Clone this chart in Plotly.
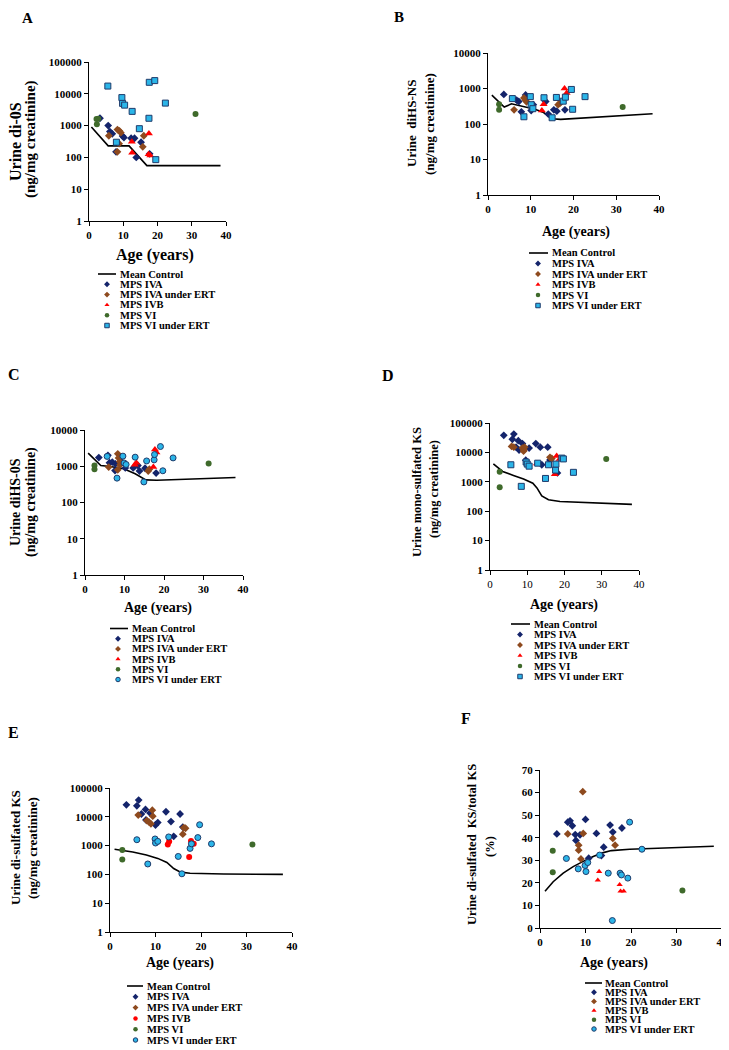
import plotly.graph_objects as go

# The page body adds an 8 px margin; design coordinates are page pixels.
W, H = 729, 1050
OFF = 8
FW, FH = W - OFF, H - OFF

SERIES = ["MPS IVA", "MPS IVA under ERT", "MPS IVB", "MPS VI", "MPS VI under ERT"]
CONTROL_NAME = "Mean Control"
AGE_TICKS = [0, 10, 20, 30, 40]
LOG5_TICKS = [1, 10, 100, 1000, 10000, 100000]
LOG4_TICKS = [1, 10, 100, 1000, 10000]
PCT_TICKS = [0, 10, 20, 30, 40, 50, 60, 70]

# ---------------- Panel A: di-0S ----------------
a_ctrl_age = [0.7, 5.6, 11.7, 16.9, 38.4]
a_ctrl_val = [900, 230, 230, 55, 55]
a_iva_age = [3.2, 5.6, 6.1, 6.8, 7.9, 9.8, 10.2, 12.3, 13.3, 13.8, 15.2, 17.7]
a_iva_val = [1700, 1000, 650, 550, 150, 470, 420, 400, 400, 100, 300, 130]
a_ivaert_age = [5.8, 8.3, 8.9, 9.3, 8.3, 8.8, 15.7, 16.0]
a_ivaert_val = [480, 750, 680, 600, 150, 270, 215, 480]
a_ivb_age = [12.5, 12.6, 17.5, 17.4, 17.9]
a_ivb_val = [310, 140, 560, 125, 115]
a_vi_age = [2.2, 2.3, 2.7, 31.1]
a_vi_val = [1600, 1100, 1650, 2300]
a_viert_age = [5.5, 8.0, 9.6, 9.8, 10.4, 12.6, 14.7, 17.5, 17.6, 19.2, 19.5, 22.3]
a_viert_val = [17500, 300, 7600, 5000, 4400, 2800, 800, 1700, 23000, 26000, 85, 5100]

# ---------------- Panel B: diHS-NS ----------------
b_ctrl_age = [0.9, 3.8, 5.5, 8.5, 11, 13, 15, 17, 25, 38.5]
b_ctrl_val = [650, 300, 370, 310, 260, 210, 140, 135, 155, 195]
b_iva_age = [3.7, 6.7, 7.2, 7.8, 8.8, 10.1, 10.6, 13.5, 14.1, 15.4, 16.1, 18.0]
b_iva_val = [680, 470, 430, 220, 660, 240, 350, 430, 190, 250, 230, 250]
b_ivaert_age = [6.1, 8.4, 8.8, 9.0, 16.4, 16.8]
b_ivaert_val = [250, 540, 470, 420, 350, 380]
b_ivb_age = [12.6, 13.0, 17.9, 18.4]
b_ivb_val = [240, 360, 1000, 750]
b_vi_age = [2.6, 2.6, 31.5]
b_vi_val = [360, 250, 300]
b_viert_age = [5.7, 8.4, 9.9, 10.1, 10.5, 13.1, 15.0, 16.0, 17.6, 18.1, 19.5, 19.8, 22.7]
b_viert_val = [520, 160, 590, 350, 270, 550, 150, 560, 440, 570, 940, 260, 590]

# ---------------- Panel C: diHS-0S ----------------
c_ctrl_age = [0.8, 4.0, 6.4, 9.8, 12.7, 15.4, 18.2, 28, 38.1]
c_ctrl_val = [2300, 1050, 980, 850, 620, 420, 410, 440, 490]
c_iva_age = [3.5, 5.8, 6.2, 6.9, 7.6, 7.7, 9.0, 10.2, 12.2, 13.4, 13.8, 15.2, 18.0]
c_iva_val = [1730, 2000, 1250, 1300, 760, 1170, 1650, 900, 900, 1050, 740, 880, 650]
c_ivaert_age = [6.0, 8.3, 8.5, 8.8, 8.9, 8.3, 16.0, 16.3]
c_ivaert_val = [950, 2200, 1700, 1350, 1100, 800, 740, 830]
c_ivb_age = [12.6, 13.0, 17.3, 17.7, 18.1]
c_ivb_val = [1100, 1250, 950, 2900, 2400]
c_vi_age = [2.4, 2.4, 31.3]
c_vi_val = [1050, 830, 1200]
c_viert_age = [5.6, 8.1, 9.6, 9.9, 10.4, 12.7, 14.9, 15.6, 17.5, 17.6, 19.1, 19.7, 22.3]
c_viert_val = [1870, 470, 1900, 1230, 1120, 1780, 370, 1400, 1500, 2100, 3500, 750, 1700]

# ---------------- Panel D: mono-sulfated KS ----------------
d_ctrl_age = [0.9, 3.4, 6.3, 9.0, 11.5, 12.6, 13.9, 15.7, 18.8, 27.8, 38.1]
d_ctrl_val = [4100, 2250, 1650, 1250, 900, 620, 330, 245, 215, 190, 170]
d_iva_age = [3.7, 6.0, 6.4, 7.0, 7.6, 8.7, 7.8, 10.5, 12.3, 13.5, 15.5, 9.6, 13.9, 16.1, 18.1]
d_iva_val = [38000, 28000, 42000, 15000, 25000, 20000, 12000, 14000, 20000, 15000, 15000, 5400, 3800, 5500, 2000]
d_ivaert_age = [5.8, 6.4, 8.7, 9.1, 9.3, 9.0, 16.1, 16.6]
d_ivaert_val = [16000, 15000, 14000, 12000, 15000, 11000, 6800, 6200]
d_ivb_age = [12.6, 17.4, 17.9, 18.7]
d_ivb_val = [4200, 1800, 7500, 6000]
d_vi_age = [2.6, 2.6, 31.2]
d_vi_val = [2200, 650, 6000]
d_viert_age = [5.6, 8.4, 9.7, 10.0, 10.5, 12.8, 14.9, 15.7, 17.6, 17.7, 19.3, 19.7, 22.4]
d_viert_val = [3800, 700, 4700, 4000, 3400, 4300, 1300, 3800, 2500, 4000, 6400, 6000, 2100]

# ---------------- Panel E: di-sulfated KS ----------------
e_ctrl_age = [1.0, 5.0, 8.0, 10.5, 12.5, 14.0, 15.5, 17.6, 25, 38]
e_ctrl_val = [750, 600, 470, 360, 260, 160, 120, 110, 103, 100]
e_iva_age = [3.6, 5.9, 6.3, 6.9, 7.8, 7.9, 8.8, 10.0, 10.5, 12.3, 13.4, 14.0, 15.4, 16.0]
e_iva_val = [26000, 24000, 38000, 12500, 18000, 7800, 13500, 5200, 6300, 15000, 6800, 2100, 12500, 4400]
e_ivaert_age = [6.2, 8.1, 8.6, 9.0, 9.3, 9.4, 16.0, 16.2, 16.6]
e_ivaert_val = [11500, 7400, 6500, 5700, 17000, 10500, 2500, 4200, 4000]
e_ivb_age = [12.7, 13.0, 17.4, 17.8, 18.4]
e_ivb_val = [1100, 1400, 400, 1450, 1150]
e_vi_age = [2.7, 2.7, 31.3]
e_vi_val = [700, 330, 1100]
e_viert_age = [5.9, 8.3, 9.9, 10.0, 10.5, 12.9, 15.0, 15.8, 17.6, 17.9, 19.3, 19.7, 22.3]
e_viert_val = [1600, 230, 1700, 1230, 1400, 2000, 420, 105, 800, 1150, 1900, 5300, 1150]

# ---------------- Panel F: di-sulfated KS / total KS (%) ----------------
f_ctrl_age = [1.1, 2.9, 5.1, 7.3, 9.5, 11.7, 13.9, 15.7, 19.7, 27, 38.2]
f_ctrl_val = [16.3, 20.5, 24.3, 27.2, 29.5, 31.7, 33.4, 34.3, 34.9, 35.5, 36.2]
f_iva_age = [3.7, 6.1, 6.6, 7.1, 7.75, 7.9, 8.8, 10.0, 10.7, 12.4, 13.5, 14.0, 15.4, 16.0, 18.0]
f_iva_val = [41.7, 46.9, 47.5, 45.3, 41.4, 38.8, 41.3, 48.1, 30.9, 41.9, 32.1, 35.8, 45.6, 42.5, 44.3]
f_ivaert_age = [6.1, 8.5, 8.5, 9.0, 9.4, 9.5, 16.0, 16.5]
f_ivaert_val = [41.7, 36.7, 34.5, 30.6, 60.4, 41.9, 39.7, 36.7]
f_ivb_age = [12.7, 13.0, 17.5, 17.7, 18.4]
f_ivb_val = [21.2, 25.0, 19.2, 16.3, 16.3]
f_vi_age = [2.8, 2.8, 31.3]
f_vi_val = [34.2, 24.7, 16.6]
f_viert_age = [5.8, 8.4, 9.9, 10.1, 10.5, 13.1, 15.0, 15.9, 17.6, 17.9, 19.3, 19.7, 22.4]
f_viert_val = [30.8, 26.2, 27.7, 25.0, 29.0, 32.3, 24.3, 3.3, 24.3, 23.5, 22.1, 46.9, 34.9]

# ---------------- styles ----------------
NAVY = "#14246B"
BROWN = "#8E4A1E"
RED = "#FF0000"
GREEN = "#3F6A2B"
LBLUE = "#2BB5E8"
EDGE = "#1F3B6B"
SERIF = "Liberation Serif"


def px_x(p):
    return (p - OFF) / FW


def px_y(p):
    return 1 - (p - OFF) / FH


PANELS = [
    dict(key="A", xa="x", ya="y", xd=(89, 226), yd=(62, 221), log=True, yr=[0, 5], yt=LOG5_TICKS,
         ctrl=(a_ctrl_age, a_ctrl_val),
         data=[(a_iva_age, a_iva_val), (a_ivaert_age, a_ivaert_val), (a_ivb_age, a_ivb_val),
               (a_vi_age, a_vi_val), (a_viert_age, a_viert_val)],
         ivb="triangle-up", viert="square", xbold=True),
    dict(key="B", xa="x2", ya="y2", xd=(488, 659), yd=(53, 195), log=True, yr=[0, 4], yt=LOG4_TICKS,
         ctrl=(b_ctrl_age, b_ctrl_val),
         data=[(b_iva_age, b_iva_val), (b_ivaert_age, b_ivaert_val), (b_ivb_age, b_ivb_val),
               (b_vi_age, b_vi_val), (b_viert_age, b_viert_val)],
         ivb="triangle-up", viert="square", xbold=True),
    dict(key="C", xa="x3", ya="y3", xd=(85, 243), yd=(430, 575), log=True, yr=[0, 4], yt=LOG4_TICKS,
         ctrl=(c_ctrl_age, c_ctrl_val),
         data=[(c_iva_age, c_iva_val), (c_ivaert_age, c_ivaert_val), (c_ivb_age, c_ivb_val),
               (c_vi_age, c_vi_val), (c_viert_age, c_viert_val)],
         ivb="triangle-up", viert="circle", xbold=True),
    dict(key="D", xa="x4", ya="y4", xd=(490, 639), yd=(423, 570), log=True, yr=[0, 5], yt=LOG5_TICKS,
         ctrl=(d_ctrl_age, d_ctrl_val),
         data=[(d_iva_age, d_iva_val), (d_ivaert_age, d_ivaert_val), (d_ivb_age, d_ivb_val),
               (d_vi_age, d_vi_val), (d_viert_age, d_viert_val)],
         ivb="triangle-up", viert="square", xbold=False),
    dict(key="E", xa="x5", ya="y5", xd=(110, 292), yd=(788, 932), log=True, yr=[0, 5], yt=LOG5_TICKS,
         ctrl=(e_ctrl_age, e_ctrl_val),
         data=[(e_iva_age, e_iva_val), (e_ivaert_age, e_ivaert_val), (e_ivb_age, e_ivb_val),
               (e_vi_age, e_vi_val), (e_viert_age, e_viert_val)],
         ivb="circle", viert="circle", xbold=True),
    dict(key="F", xa="x6", ya="y6", xd=(540, 722), yd=(770, 928), log=False, yr=[0, 70], yt=PCT_TICKS,
         ctrl=(f_ctrl_age, f_ctrl_val),
         data=[(f_iva_age, f_iva_val), (f_ivaert_age, f_ivaert_val), (f_ivb_age, f_ivb_val),
               (f_vi_age, f_vi_val), (f_viert_age, f_viert_val)],
         ivb="triangle-up", viert="circle", xbold=True),
]


def series_styles(p, legend=False):
    if p["ivb"] == "circle":
        ivb_size = 6
    else:
        ivb_size = 5.5 if p["key"] == "F" else 7
    styles = [
        dict(symbol="diamond", size=6, color=NAVY, line=dict(width=0)),
        dict(symbol="diamond", size=6, color=BROWN, line=dict(width=0)),
        dict(symbol=p["ivb"], size=ivb_size, color=RED, line=dict(width=0)),
        dict(symbol="circle", size=6, color=GREEN, line=dict(width=0)),
        dict(symbol=p["viert"], size=6, color=LBLUE, line=dict(width=1, color=EDGE)),
    ]
    if legend:
        for s in styles:
            s["size"] = 4.5
    return styles


fig = go.Figure()
layout = dict(
    width=FW, height=FH, margin=dict(l=0, r=0, t=0, b=0, pad=0),
    paper_bgcolor="white", plot_bgcolor="rgba(0,0,0,0)",
    showlegend=False, template="none",
    font=dict(family=SERIF, color="black"),
)
annotations = []

for i, p in enumerate(PANELS):
    n = "" if i == 0 else str(i + 1)
    fig.add_trace(go.Scatter(x=p["ctrl"][0], y=p["ctrl"][1], mode="lines", name=CONTROL_NAME,
                             line=dict(color="black", width=1.6), xaxis=p["xa"], yaxis=p["ya"],
                             hoverinfo="skip"))
    for (ages, vals), nm, st in zip(p["data"], SERIES, series_styles(p)):
        fig.add_trace(go.Scatter(x=ages, y=vals, mode="markers", name=nm, marker=st,
                                 xaxis=p["xa"], yaxis=p["ya"]))
    tickfont = dict(family=SERIF, size=11, color="black", weight="bold")
    xtickfont = dict(tickfont)
    if not p["xbold"]:
        xtickfont["weight"] = "normal"
    layout["xaxis" + n] = dict(
        domain=[px_x(p["xd"][0]), px_x(p["xd"][1])], anchor=p["ya"], range=[0, 40],
        tickvals=AGE_TICKS, ticktext=[str(t) for t in AGE_TICKS], ticks="outside", ticklen=4,
        tickwidth=1, tickcolor="black", showline=True, linecolor="black", linewidth=1,
        showgrid=False, zeroline=False, tickfont=xtickfont, automargin=False, fixedrange=True)
    ya = dict(
        domain=[px_y(p["yd"][1]), px_y(p["yd"][0])], anchor=p["xa"],
        tickvals=p["yt"], ticktext=[str(t) for t in p["yt"]], ticks="outside", ticklen=4,
        tickwidth=1, tickcolor="black", showline=True, linecolor="black", linewidth=1,
        showgrid=False, zeroline=False, tickfont=tickfont, automargin=False, fixedrange=True)
    if p["log"]:
        ya.update(type="log", range=p["yr"])
    else:
        ya.update(type="linear", range=p["yr"])
    layout["yaxis" + n] = ya


def ann(text, x, y, size, angle=0, xanchor="center", yanchor="middle", bold=True):
    annotations.append(dict(
        text=("<b>%s</b>" % text) if bold else text, x=px_x(x), y=px_y(y), xref="paper", yref="paper",
        showarrow=False, textangle=angle, xanchor=xanchor, yanchor=yanchor,
        font=dict(family=SERIF, size=size, color="black")))


LETTERS = [("A", 27.5, 18, 15), ("B", 399, 17, 15), ("C", 14, 374, 16), ("D", 388, 375, 16),
           ("E", 13.5, 732, 16), ("F", 466, 718, 16)]
for t, x, y, s in LETTERS:
    ann(t, x, y, s)

XTITLES = [(155, 255, 16), (576, 232, 14), (158, 608, 14), (564, 605, 14), (180, 963, 14), (614, 963, 14)]
for x, y, s in XTITLES:
    ann("Age (years)", x, y, s)

YTITLES = [
    ("Urine di-0S", 15, 142, 16), ("(ng/mg creatinine)", 30, 139, 15),
    ("Urine  diHS-NS", 412, 124, 13), ("(ng/mg creatinine)", 430, 124, 13),
    ("Urine diHS-0S", 15, 502, 14), ("(ng/mg creatinine)", 31, 502, 14),
    ("Urine mono-sulfated KS", 417, 492, 12.5), ("(ng/mg creatinine)", 434, 489, 12.5),
    ("Urine di-sulfated KS", 15, 848, 13), ("(ng/mg creatinine)", 32, 848, 13),
    ("Urine di-sulfated  KS/total KS", 472, 845, 12.5), ("(%)", 490, 847, 12.5),
]
for t, x, y, s in YTITLES:
    ann(t, x, y, s, angle=-90)

# ---------------- per-panel legends (drawn on a page-sized overlay axis) ----------------
# marker x, line x0, line x1, text x, first row y, row step (page pixels)
LEGENDS = [
    (107, 98, 116, 117.5, 274, 10.3),
    (538, 529, 548, 549.5, 253, 10.5),
    (118, 110, 128, 129.5, 628.5, 10.2),
    (520, 511, 530, 531.5, 624, 10.5),
    (135.5, 127, 143, 144.5, 986, 10.8),
    (594, 585, 602, 603, 983, 9.2),
]
layout["xaxis7"] = dict(domain=[0, 1], range=[OFF, W], visible=False, fixedrange=True, anchor="y7")
layout["yaxis7"] = dict(domain=[0, 1], range=[H, OFF], visible=False, fixedrange=True, anchor="x7")

for p, (mx, lx0, lx1, tx, y0, step) in zip(PANELS, LEGENDS):
    fig.add_trace(go.Scatter(x=[lx0, lx1], y=[y0, y0], mode="lines", line=dict(color="black", width=1.6),
                             xaxis="x7", yaxis="y7", hoverinfo="skip"))
    ann(CONTROL_NAME, tx, y0, 10.5, xanchor="left")
    for k, (nm, st) in enumerate(zip(SERIES, series_styles(p, legend=True))):
        yy = y0 + (k + 1) * step
        fig.add_trace(go.Scatter(x=[mx], y=[yy], mode="markers", marker=st,
                                 xaxis="x7", yaxis="y7", hoverinfo="skip"))
        ann(nm, tx, yy, 10.5, xanchor="left")

layout["annotations"] = annotations
fig.update_layout(**layout)
fig.write_html("out.html")
